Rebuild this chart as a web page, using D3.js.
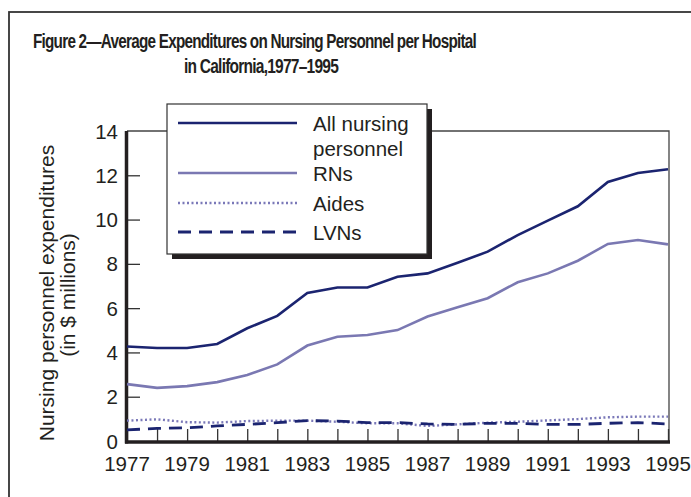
<!DOCTYPE html>
<html>
<head>
<meta charset="utf-8">
<script src="https://cdn.jsdelivr.net/npm/d3@7"></script>
<style>
body { margin: 0; background: #fff; }
svg { display: block; font-family: "Liberation Sans", Arial, sans-serif; }
</style>
</head>
<body>
<script>
// data ($ millions per hospital)
var years = [1977, 1978, 1979, 1980, 1981, 1982, 1983, 1984, 1985, 1986,
             1987, 1988, 1989, 1990, 1991, 1992, 1993, 1994, 1995];
var allNursing = [4.27, 4.2, 4.2, 4.38, 5.09, 5.65, 6.68, 6.93, 6.93, 7.42,
                  7.57, 8.05, 8.55, 9.3, 9.95, 10.6, 11.7, 12.1, 12.27];
var rns = [2.57, 2.4, 2.48, 2.66, 2.98, 3.46, 4.31, 4.71, 4.79, 5.01,
           5.62, 6.04, 6.45, 7.17, 7.57, 8.14, 8.9, 9.08, 8.88];
var aides = [0.92, 0.98, 0.85, 0.83, 0.9, 0.92, 0.92, 0.87, 0.8, 0.8,
             0.68, 0.75, 0.83, 0.87, 0.93, 0.99, 1.07, 1.1, 1.1];
var lvns = [0.5, 0.57, 0.6, 0.68, 0.75, 0.83, 0.92, 0.9, 0.83, 0.83,
            0.77, 0.75, 0.8, 0.8, 0.75, 0.75, 0.8, 0.83, 0.77];
var yTicks = [0, 2, 4, 6, 8, 10, 12, 14];
var xLabels = [1977, 1979, 1981, 1983, 1985, 1987, 1989, 1991, 1993, 1995];

var series = [
  {name: ["All nursing", "personnel"], values: allNursing, color: "#1b2470", dash: null, width: 2.6},
  {name: ["RNs"], values: rns, color: "#7a78b2", dash: null, width: 2.6},
  {name: ["Aides"], values: aides, color: "#7a78b8", dash: "2,2.5", width: 2.4},
  {name: ["LVNs"], values: lvns, color: "#1b2470", dash: "13,8", width: 2.8}
];

var W = 691, H = 497;
var fs = "20.5px";
var svg = d3.select("body").append("svg").attr("width", W).attr("height", H);

// outer frame
svg.append("rect")
   .attr("x", 9).attr("y", 12).attr("width", 700).attr("height", 520)
   .attr("fill", "none").attr("stroke", "#333").attr("stroke-width", 1.8);

// title (tightly set, as in the original)
svg.append("text")
   .attr("x", 33).attr("y", 48)
   .style("font-size", "20px").style("font-weight", "bold")
   .style("letter-spacing", "-1px")
   .attr("textLength", 443).attr("lengthAdjust", "spacingAndGlyphs")
   .attr("fill", "#231f20")
   .text("Figure 2\u2014Average Expenditures on Nursing Personnel per Hospital");
svg.append("text")
   .attr("x", 184).attr("y", 73)
   .style("font-size", "20px").style("font-weight", "bold")
   .style("letter-spacing", "-1px")
   .attr("textLength", 154).attr("lengthAdjust", "spacingAndGlyphs")
   .attr("fill", "#231f20")
   .text("in California,1977\u20131995");

var xScale = d3.scaleLinear().domain([1977, 1995]).range([127, 668]);
var yScale = d3.scaleLinear().domain([0, 14]).range([441, 131]);

// thin plot frame (top and right)
svg.append("path")
   .attr("d", "M127," + yScale(14) + "H669V" + yScale(0))
   .attr("fill", "none").attr("stroke", "#444").attr("stroke-width", 1.3);

// x axis: ticks every year pointing up, labels every two years
var xAxis = svg.append("g")
   .attr("transform", "translate(0," + yScale(0) + ")")
   .call(d3.axisBottom(xScale).tickValues(years).tickSize(-12).tickFormat(""));
xAxis.select(".domain").remove();
xAxis.selectAll(".tick line").attr("stroke", "#333").attr("stroke-width", 1.3);
svg.append("line")
   .attr("x1", 125).attr("x2", 670)
   .attr("y1", yScale(0) + 1).attr("y2", yScale(0) + 1)
   .attr("stroke", "#231f20").attr("stroke-width", 3.5);
svg.append("g").selectAll("text")
   .data(xLabels).enter().append("text")
   .attr("x", function(d) { return xScale(d); })
   .attr("y", 471)
   .attr("text-anchor", "middle")
   .style("font-size", fs)
   .attr("fill", "#231f20")
   .text(function(d) { return d; });

// y axis: ticks pointing right
var yAxis = svg.append("g")
   .attr("transform", "translate(127,0)")
   .call(d3.axisLeft(yScale).tickValues(yTicks.slice(1, -1)).tickSize(-13).tickFormat(""));
yAxis.select(".domain").remove();
yAxis.selectAll(".tick line").attr("stroke", "#333").attr("stroke-width", 1.3);
svg.append("line")
   .attr("x1", 126.5).attr("x2", 126.5)
   .attr("y1", yScale(14)).attr("y2", yScale(0) + 2.5)
   .attr("stroke", "#231f20").attr("stroke-width", 3.5);
svg.append("g").selectAll("text")
   .data(yTicks).enter().append("text")
   .attr("x", 118)
   .attr("y", function(d) { return yScale(d) + 7.5; })
   .attr("text-anchor", "end")
   .style("font-size", fs)
   .attr("fill", "#231f20")
   .text(function(d) { return d; });

// y axis title
svg.append("text")
   .attr("transform", "translate(54,293) rotate(-90)")
   .attr("text-anchor", "middle")
   .style("font-size", "21px")
   .attr("fill", "#231f20")
   .text("Nursing personnel expenditures");
svg.append("text")
   .attr("transform", "translate(75,295) rotate(-90)")
   .attr("text-anchor", "middle")
   .style("font-size", "21px")
   .attr("fill", "#231f20")
   .text("(in $ millions)");

// lines
var line = d3.line()
   .x(function(d, i) { return xScale(years[i]); })
   .y(function(d) { return yScale(d); });

series.forEach(function(s) {
  svg.append("path")
     .attr("d", line(s.values))
     .attr("fill", "none")
     .attr("stroke", s.color)
     .attr("stroke-width", s.width)
     .attr("stroke-dasharray", s.dash);
});

// legend with drop shadow
var lg = svg.append("g");
lg.append("rect")
  .attr("x", 172).attr("y", 109).attr("width", 260).attr("height", 150)
  .attr("fill", "#231f20");
lg.append("rect")
  .attr("x", 167).attr("y", 104).attr("width", 260).attr("height", 150)
  .attr("fill", "#fff").attr("stroke", "#333").attr("stroke-width", 1.2);

var legendY = [123, 173, 203, 232];
series.forEach(function(s, i) {
  lg.append("line")
    .attr("x1", 178).attr("x2", 297)
    .attr("y1", legendY[i]).attr("y2", legendY[i])
    .attr("stroke", s.color)
    .attr("stroke-width", s.width)
    .attr("stroke-dasharray", s.dash);
  s.name.forEach(function(n, j) {
    lg.append("text")
      .attr("x", 313)
      .attr("y", legendY[i] + 7.5 + j * 25)
      .style("font-size", fs)
      .attr("fill", "#231f20")
      .text(n);
  });
});
</script>
</body>
</html>
